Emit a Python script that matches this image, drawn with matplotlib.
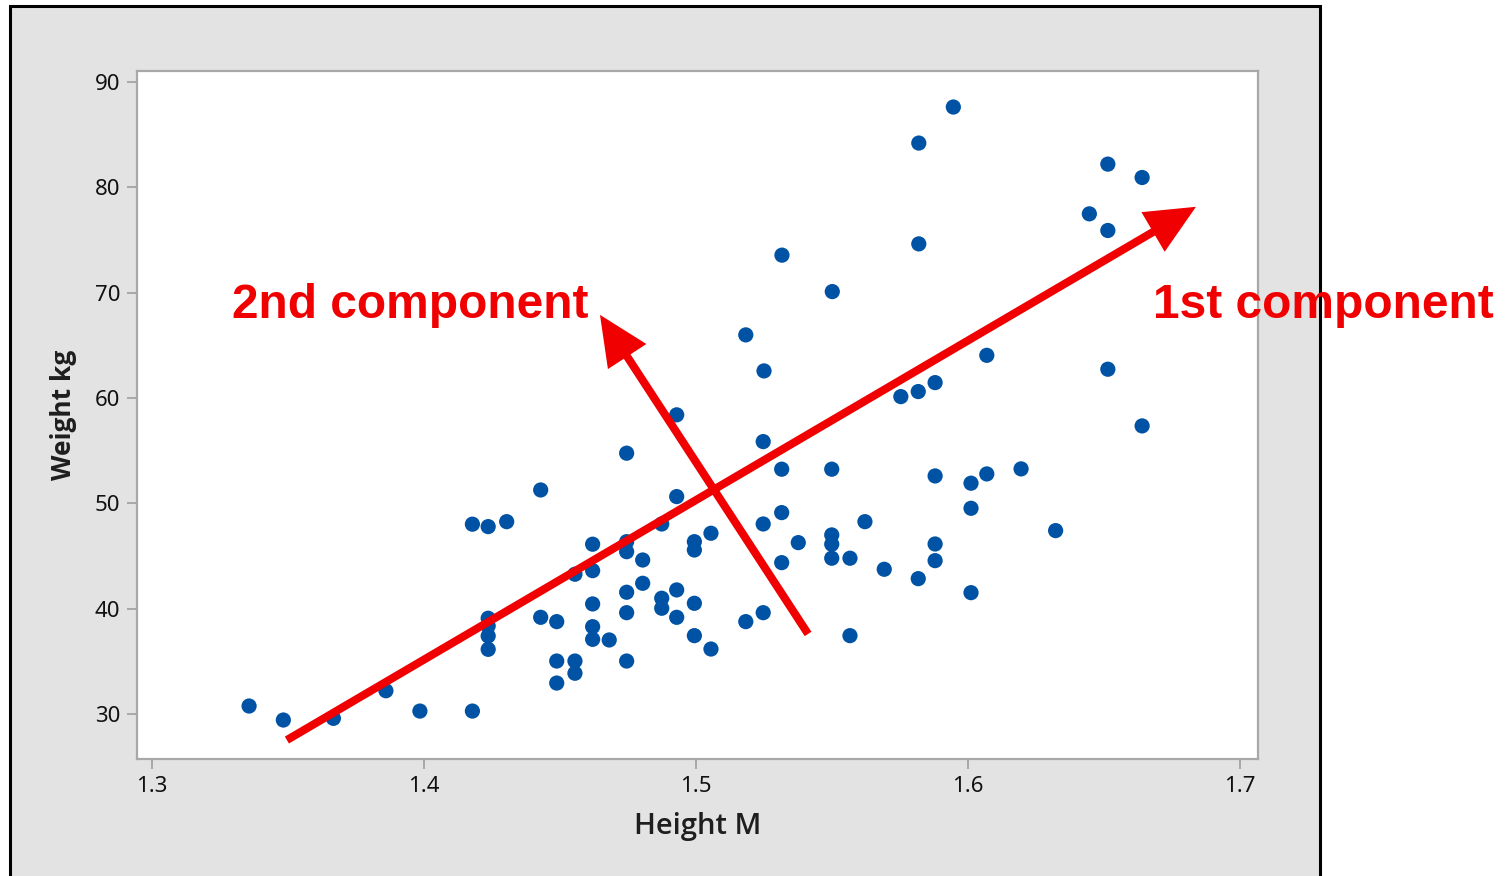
import matplotlib
matplotlib.use("Agg")
import matplotlib.pyplot as plt
from matplotlib.patches import Rectangle, FancyArrowPatch, ArrowStyle
import numpy as np

# ---- data ----
height_m = [1.3357, 1.3483, 1.3667, 1.3860, 1.3985, 1.4178, 1.4178, 1.4236, 1.4304, 1.4429,
            1.4236, 1.4236, 1.4236, 1.4236, 1.4429, 1.4488, 1.4488, 1.4488, 1.4555, 1.4555,
            1.4555, 1.4620, 1.4620, 1.4620, 1.4620, 1.4620, 1.4681, 1.4745, 1.4745, 1.4745,
            1.4745, 1.4745, 1.4745, 1.4804, 1.4804, 1.4874, 1.4874, 1.4874, 1.4929, 1.4929,
            1.4929, 1.4929, 1.4994, 1.4994, 1.4994, 1.4994, 1.5055, 1.5055, 1.5183, 1.5183,
            1.5250, 1.5247, 1.5247, 1.5247, 1.5316, 1.5315, 1.5315, 1.5315, 1.5376, 1.5501,
            1.5499, 1.5499, 1.5499, 1.5499, 1.5566, 1.5566, 1.5621, 1.5692, 1.5753, 1.5819,
            1.5819, 1.5817, 1.5817, 1.5879, 1.5879, 1.5879, 1.5879, 1.5946, 1.6011, 1.6011,
            1.6011, 1.6069, 1.6069, 1.6195, 1.6322, 1.6446, 1.6514, 1.6514, 1.6514, 1.6640,
            1.6640]
weight_kg = [30.76, 29.43, 29.59, 32.21, 30.28, 30.28, 48.02, 47.79, 48.26, 51.27,
             39.09, 38.36, 37.41, 36.14, 39.18, 38.77, 35.03, 32.94, 35.03, 33.87,
             43.27, 46.12, 43.61, 40.45, 38.29, 37.09, 37.03, 54.76, 46.36, 45.41,
             41.56, 39.62, 35.03, 44.62, 42.41, 48.04, 40.99, 40.04, 58.40, 50.64,
             41.78, 39.18, 46.36, 45.57, 40.51, 37.44, 47.16, 36.17, 65.99, 38.77,
             62.57, 55.86, 48.04, 39.62, 73.56, 53.24, 49.12, 44.37, 46.27, 70.10,
             53.24, 47.00, 46.12, 44.79, 44.79, 37.44, 48.26, 43.74, 60.13, 84.20,
             74.63, 60.61, 42.85, 61.46, 52.60, 46.14, 44.56, 87.62, 51.91, 49.53,
             41.52, 64.05, 52.79, 53.27, 47.41, 77.48, 82.20, 75.90, 62.73, 80.93,
             57.35]

x_ticks = [1.3, 1.4, 1.5, 1.6, 1.7]
x_tick_labels = ["1.3", "1.4", "1.5", "1.6", "1.7"]
y_ticks = [30, 40, 50, 60, 70, 80, 90]
y_tick_labels = ["30", "40", "50", "60", "70", "80", "90"]

# principal component arrows (start -> tip), in data units
pc1_start = (1.3496, 27.53)
pc1_end = (1.6838, 78.15)
pc2_start = (1.5412, 37.60)
pc2_end = (1.4647, 67.89)
pc_labels = ["1st component", "2nd component"]

# ---- figure ----
W, H = 1510, 876
fig = plt.figure(figsize=(W / 100, H / 100), dpi=100)
fig.patch.set_facecolor("white")

# grey panel with black frame
panel = Rectangle((10 / W, -0.05), (1320 - 10) / W, 1.05 - 6 / H,
                  transform=fig.transFigure, facecolor="#e3e3e3",
                  edgecolor="black", linewidth=2.2, zorder=-10)
fig.patches.append(panel)

ax = fig.add_axes([137 / W, 1 - 759 / H, (1258 - 137) / W, (759 - 71) / H])
ax.set_zorder(1)
ax.set_facecolor("white")
ax.set_xlim(1.2945, 1.7066)
ax.set_ylim(25.73, 91.04)

for s in ax.spines.values():
    s.set_color("#a8a8a8")
    s.set_linewidth(1.6)

ax.scatter(height_m, weight_kg, s=120, color="#0053a4", edgecolors="none", zorder=3)

ax.set_xticks(x_ticks)
ax.set_xticklabels(x_tick_labels)
ax.set_yticks(y_ticks)
ax.set_yticklabels(y_tick_labels)
ax.tick_params(axis="both", direction="out", length=7, width=1.4, color="#a8a8a8",
               labelsize=16, labelcolor="#111111", pad=5)
for lab in ax.get_xticklabels() + ax.get_yticklabels():
    lab.set_family("Noto Sans")

ax.set_xlabel("Height M", fontsize=21, fontweight="semibold", family="Open Sans",
              color="#1e1e1e", labelpad=11)
ax.set_ylabel("Weight kg", fontsize=19, fontweight="bold", family="Open Sans",
              color="#1e1e1e", labelpad=13)

red = "#f00000"
style = ArrowStyle("-|>", head_length=26, head_width=12)
for st, en in [(pc1_start, pc1_end), (pc2_start, pc2_end)]:
    arr = FancyArrowPatch(st, en, arrowstyle=style, mutation_scale=1,
                          color=red, linewidth=5.8, shrinkA=0, shrinkB=0,
                          joinstyle="miter", capstyle="butt", zorder=5,
                          clip_on=False)
    ax.add_patch(arr)

fig.text(1153 / W, 1 - 318 / H, pc_labels[0], color=red, fontsize=34.5,
         fontweight="bold", family="Liberation Sans", va="baseline", ha="left", zorder=6)
fig.text(232 / W, 1 - 318 / H, pc_labels[1], color=red, fontsize=34.5,
         fontweight="bold", family="Liberation Sans", va="baseline", ha="left", zorder=6)

fig.savefig("out.png", dpi=100, facecolor=fig.get_facecolor())
